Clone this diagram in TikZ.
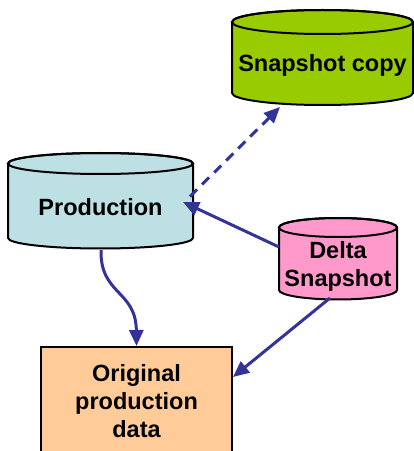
\documentclass[tikz,border=0pt]{standalone}
\usepackage{fontspec}
\setmainfont{Liberation Sans}
\usetikzlibrary{arrows.meta,calc}

\definecolor{copygreen}{HTML}{99CC00}
\definecolor{prodblue}{HTML}{BDE0E4}
\definecolor{deltapink}{HTML}{FF99CC}
\definecolor{origorange}{HTML}{FFCC99}
\definecolor{linkblue}{HTML}{333399}

% drum{cx}{top centre y}{bottom centre y}{x radius}{y radius}{fill}
\newcommand\drum[6]{%
  \filldraw[fill=#6,draw=black,line width=2pt,line join=round]
    ({#1-#4},#2) -- ({#1-#4},#3)
    arc[start angle=180,end angle=360,x radius=#4pt,y radius=#5pt]
    -- ({#1+#4},#2)
    arc[start angle=0,end angle=180,x radius=#4pt,y radius=#5pt] -- cycle;
  \draw[line width=2pt] (#1,#2) ellipse[x radius=#4pt,y radius=#5pt];
}

\tikzset{
  label text/.style={font=\bfseries\fontsize{23.5}{28}\selectfont,
    align=center,inner sep=0pt},
  link/.style={draw=linkblue,line width=3pt,
    -{Triangle[length=16pt,width=14pt]}},
  weak link/.style={link,dash pattern=on 10pt off 7pt}
}

\begin{document}
\begin{tikzpicture}[x=1pt,y=1pt]
  \useasboundingbox (0,0) rectangle (414,451);

  % storage drums
  \drum{322.5}{429}{358}{90.5}{12}{copygreen}
  \drum{100.5}{287.5}{213}{92.5}{10.5}{prodblue}
  \drum{338}{223.5}{161}{59}{9.5}{deltapink}

  \begin{scope}
    \clip (0,0) rectangle (414,451);
    \node[draw=black,fill=origorange,line width=2pt,minimum width=191pt,
      minimum height=109pt,inner sep=0pt] (orig) at (136.5,49.5) {};
  \end{scope}

  % labels
  \node[label text,minimum width=181pt] (snap) at (322.5,386) {Snapshot copy};
  \node[label text,minimum width=185pt] (prod) at (100.5,243.5) {Production};
  \node[label text,minimum width=118pt] (delta) at (338,185) {Delta\\Snapshot};
  \node[label text] (origtext) at (orig.center) {Original\\production\\data};

  % connectors
  \draw[weak link] ($(prod.center)+(89.5,11)$) -- ($(snap.center)+(-42.5,-42)$);
  \draw[link] ($(delta.center)+(-59,19)$) -- ($(prod.center)+(82.5,5.5)$);
  \draw[link] ($(prod.center)+(0.5,-42.5)$)
    .. controls (100,156) and (136,161) .. (orig.north);
  \draw[link] ($(delta.center)+(-8,-32)$) -- ([yshift=24.5pt]orig.east);
\end{tikzpicture}
\end{document}
